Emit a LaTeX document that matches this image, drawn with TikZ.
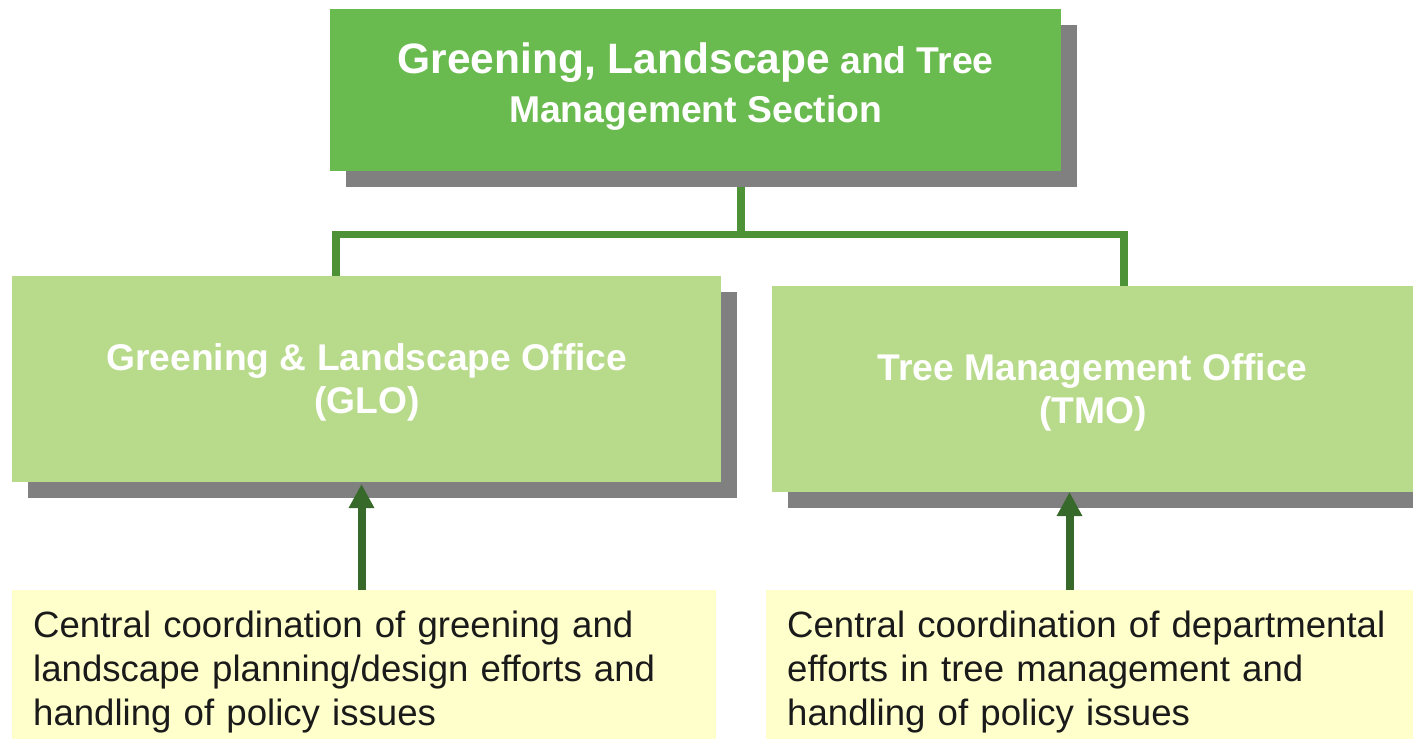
\documentclass[tikz,border=0pt]{standalone}
\usepackage{fontspec}
\setmainfont{Liberation Sans}
\usetikzlibrary{shadows,backgrounds,arrows.meta}
\definecolor{topgreen}{HTML}{6ABB4F}
\definecolor{lightgreen}{HTML}{B8DB8B}
\definecolor{shadowgray}{HTML}{808080}
\definecolor{conngreen}{HTML}{4E9238}
\definecolor{arrowgreen}{HTML}{376A2A}
\definecolor{noteyellow}{HTML}{FFFFCC}
\definecolor{notetext}{HTML}{1A1A1A}
\begin{document}
\begin{tikzpicture}[x=1pt,y=-1pt,
  shadowed/.style={drop shadow={shadow xshift=16pt,shadow yshift=-16pt,fill=shadowgray,opacity=1}},
  topbox/.style={shadowed,fill=topgreen,text=white,inner sep=0pt,anchor=north west,align=center,
    font=\bfseries\fontsize{37.3}{49.4}\selectfont},
  officebox/.style={shadowed,fill=lightgreen,text=white,inner sep=0pt,anchor=north west,align=center,
    font=\bfseries\fontsize{37.2}{43}\selectfont},
  notebox/.style={fill=noteyellow,text=notetext,inner xsep=21pt,inner ysep=0pt,anchor=north west,align=left,
    font=\fontsize{36.6}{44.3}\selectfont},
  conn/.style={draw=conngreen,line width=7.3pt,line join=miter},
  uparrow/.style={draw=arrowgreen,fill=arrowgreen,line width=8pt,-{Triangle[width=24pt,length=24pt]}}]
\useasboundingbox (0,0) rectangle (1413,739);

\node[topbox,minimum width=731pt,minimum height=162pt] (top) at (330,9)
  {{\fontsize{42.5}{49.4}\selectfont Greening, Landscape} and Tree\\Management Section\rule[-15pt]{0pt}{15pt}};
\node[officebox,minimum width=709pt,minimum height=206pt] (glo) at (12,276)
  {\rule{0pt}{33pt}Greening \& Landscape Office\\(GLO)};
\node[officebox,minimum width=641pt,minimum height=206pt] (tmo) at (772,286)
  {\rule{0pt}{34pt}Tree Management Office\\(TMO)};
\node[notebox,minimum width=704pt,minimum height=149pt,text width=662pt] (glonote) at (12,590)
  {\rule{0pt}{41pt}Central coordination of greening and\\landscape planning/design efforts and\\handling of policy issues};
\node[notebox,minimum width=647pt,minimum height=149pt,text width=605pt] (tmonote) at (766,590)
  {\rule{0pt}{41pt}Central coordination of departmental\\efforts in tree management and\\handling of policy issues};

\coordinate (j) at (741,234.3);
\coordinate (jl) at (336,234.3);
\coordinate (jr) at (1124,234.3);
\coordinate (ga) at (361.5,484);
\coordinate (ta) at (1069.5,492);

\begin{scope}[on background layer]
  \draw[conn] (top.south -| j) -- (j);
  \draw[conn] (glo.north -| jl) -- (jl) -- (jr) -- (tmo.north -| jr);
\end{scope}

\draw[uparrow] (glonote.north -| ga) -- (ga);
\draw[uparrow] (tmonote.north -| ta) -- (ta);
\end{tikzpicture}
\end{document}
